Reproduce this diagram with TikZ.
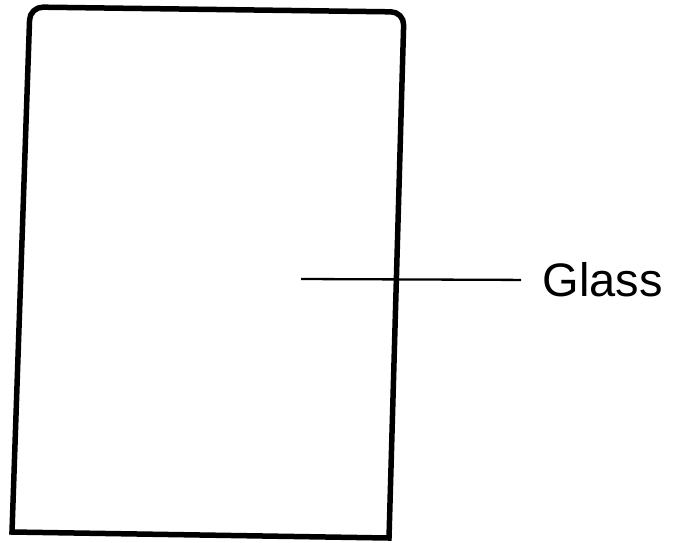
\documentclass[tikz,border=0pt]{standalone}
\usepackage{fontspec}
\setmainfont{Liberation Sans}
\usetikzlibrary{positioning}

\begin{document}
\begin{tikzpicture}[x=1pt,y=-1pt,
  slab/.style={line width=5.5pt, line join=miter},
  pointer/.style={line width=2.3pt},
  label/.style={font=\fontsize{47}{50}\selectfont, anchor=west}]
\useasboundingbox (0,0) rectangle (682,542);
% Draw glass slab
\draw[slab] (389,538) -- (12,532) [rounded corners=13pt] -- (30,7) -- (404,12) [sharp corners] -- cycle;
% Label
\coordinate (inside) at (301,279);
\node[label] (glass) at (539,280) {Glass};
\draw[pointer, shorten >=18pt] (inside) -- (glass.west);
\end{tikzpicture}
\end{document}
